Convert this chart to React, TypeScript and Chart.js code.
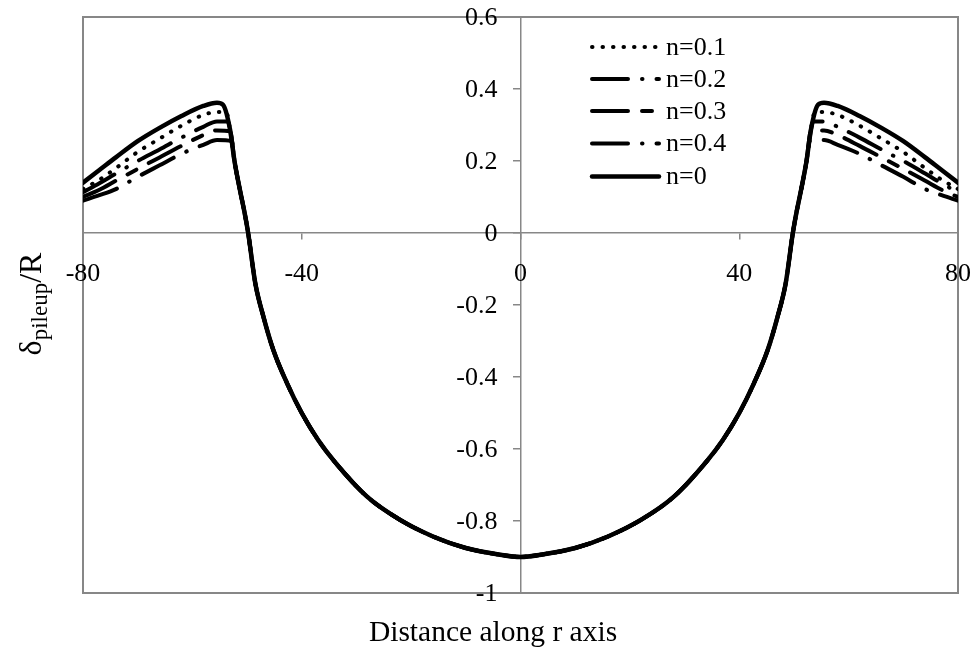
import React, { useEffect, useRef } from 'react';
import { Chart, registerables } from 'chart.js';

Chart.register(...registerables);

const FONT = '"Liberation Serif", "Times New Roman", serif';

// Legend labels (in legend order)
const seriesNames = ['n=0.1', 'n=0.2', 'n=0.3', 'n=0.4', 'n=0'];

// Axis ticks
const xTicks = [-80, -40, 0, 40, 80];
const yMin = -1;
const yMax = 0.6;
const yStep = 0.2;

// Shared central (indentation) curve, identical for every n
const bowlX = [-52.3, -51.3, -50.5, -49.8, -48.5, -47, -45.2, -42.7, -40, -37, -34, -28, -22, -16, -10, -4, 0, 4, 10, 16, 22, 28, 34, 37, 40, 42.7, 45.2, 47, 48.5, 49.8, 50.5, 51.3, 52.3];
const bowlY = [0.2, 0.119, 0.06, 0, -0.139, -0.233, -0.325, -0.417, -0.5, -0.575, -0.635, -0.733, -0.797, -0.843, -0.875, -0.893, -0.9, -0.893, -0.875, -0.843, -0.797, -0.733, -0.635, -0.575, -0.5, -0.417, -0.325, -0.233, -0.139, 0, 0.06, 0.119, 0.2];

// Pile-up wings for each n (left wing, then right wing)
const n0LeftX = [-80, -77, -74, -70, -66, -62, -58, -55.5, -54.4, -53.1];
const n0LeftY = [0.14, 0.175, 0.21, 0.255, 0.292, 0.325, 0.353, 0.362, 0.356, 0.286];
const n0RightX = [53.1, 54.4, 55.5, 58, 62, 66, 70, 74, 77, 80];
const n0RightY = [0.286, 0.356, 0.362, 0.353, 0.325, 0.292, 0.255, 0.21, 0.175, 0.14];

const n01LeftX = [-80, -77, -74, -70, -66, -62, -58, -55.5, -53.8, -53.1];
const n01LeftY = [0.122, 0.148, 0.18, 0.225, 0.262, 0.298, 0.328, 0.336, 0.335, 0.286];
const n01RightX = [53.1, 53.8, 55.5, 58, 62, 66, 70, 74, 77, 80];
const n01RightY = [0.286, 0.335, 0.336, 0.328, 0.298, 0.262, 0.225, 0.18, 0.148, 0.122];

const n02LeftX = [-80, -77, -74, -70, -66, -62, -58, -55.5, -53.5, -53.1];
const n02LeftY = [0.113, 0.138, 0.165, 0.2, 0.232, 0.265, 0.295, 0.31, 0.31, 0.286];
const n02RightX = [53.1, 53.5, 55.5, 58, 62, 66, 70, 74, 77, 80];
const n02RightY = [0.286, 0.31, 0.31, 0.295, 0.265, 0.232, 0.2, 0.165, 0.138, 0.113];

const n03LeftX = [-80, -77, -74, -70, -66, -62, -58, -55.5, -53.1];
const n03LeftY = [0.1, 0.12, 0.145, 0.178, 0.21, 0.242, 0.272, 0.285, 0.283];
const n03RightX = [53.1, 55.5, 58, 62, 66, 70, 74, 77, 80];
const n03RightY = [0.283, 0.285, 0.272, 0.242, 0.21, 0.178, 0.145, 0.12, 0.1];

const n04LeftX = [-80, -77, -74, -70, -66, -62, -58, -55.5, -52.8];
const n04LeftY = [0.09, 0.105, 0.122, 0.156, 0.188, 0.22, 0.245, 0.258, 0.255];
const n04RightX = [52.8, 55.5, 58, 62, 66, 70, 74, 77, 80];
const n04RightY = [0.255, 0.258, 0.245, 0.22, 0.188, 0.156, 0.122, 0.105, 0.09];

type Pt = { x: number; y: number };
const zip = (xs: number[], ys: number[]): Pt[] => xs.map((x, i) => ({ x, y: ys[i] }));
const build = (lx: number[], ly: number[], rx: number[], ry: number[]): Pt[] => [
  ...zip(lx, ly),
  ...zip(bowlX, bowlY),
  ...zip(rx, ry),
];

const styles = [
  { width: 4, dash: [0.5, 10] },
  { width: 4, dash: [36, 14, 0.5, 14] },
  { width: 4, dash: [36, 14, 10, 14] },
  { width: 4, dash: [36, 14, 0.5, 14] },
  { width: 4.5, dash: [] as number[] },
];

const seriesData = [
  build(n01LeftX, n01LeftY, n01RightX, n01RightY),
  build(n02LeftX, n02LeftY, n02RightX, n02RightY),
  build(n03LeftX, n03LeftY, n03RightX, n03RightY),
  build(n04LeftX, n04LeftY, n04RightX, n04RightY),
  build(n0LeftX, n0LeftY, n0RightX, n0RightY),
];

const zeroPadding = (s: any) => {
  s.paddingTop = 0;
  s.paddingBottom = 0;
  s.paddingLeft = 0;
  s.paddingRight = 0;
};

const frameAndText = {
  id: 'frameAndText',
  beforeDatasetsDraw(chart: any) {
    const { ctx, chartArea: a } = chart;
    ctx.save();
    ctx.strokeStyle = '#878787';
    ctx.lineWidth = 2;
    ctx.strokeRect(a.left, a.top, a.right - a.left, a.bottom - a.top);
    ctx.restore();
  },
  afterDraw(chart: any) {
    const { ctx } = chart;
    const xs = chart.scales.x;
    const ys = chart.scales.y;
    const x0 = xs.getPixelForValue(0);
    const y0 = ys.getPixelForValue(0);
    ctx.save();
    ctx.fillStyle = '#000';
    // Tick labels
    ctx.font = `26px ${FONT}`;
    ctx.textAlign = 'right';
    ctx.textBaseline = 'middle';
    ys.ticks.forEach((t: any) => {
      ctx.fillText(String(t.label), x0 - 23, ys.getPixelForValue(t.value) + 1);
    });
    ctx.textAlign = 'center';
    xs.ticks.forEach((t: any) => {
      ctx.fillText(String(t.label), xs.getPixelForValue(t.value), y0 + 41);
    });
    // Legend
    const rows = [47, 79, 111, 143.5, 176.5];
    seriesNames.forEach((name, i) => {
      const st = styles[i];
      ctx.save();
      ctx.strokeStyle = '#000';
      ctx.lineWidth = st.width;
      ctx.lineCap = 'round';
      ctx.setLineDash(st.dash);
      ctx.beginPath();
      ctx.moveTo(592, rows[i]);
      ctx.lineTo(659, rows[i]);
      ctx.stroke();
      ctx.restore();
      ctx.font = `26px ${FONT}`;
      ctx.textAlign = 'left';
      ctx.textBaseline = 'middle';
      ctx.fillText(name, 666, rows[i] + 1);
    });
    // X axis title
    ctx.font = `29.5px ${FONT}`;
    ctx.textAlign = 'center';
    ctx.textBaseline = 'middle';
    ctx.fillText('Distance along r axis', 493, 633);
    // Y axis title with subscript
    ctx.translate(33, 304);
    ctx.rotate(-Math.PI / 2);
    ctx.textAlign = 'left';
    ctx.textBaseline = 'middle';
    const big = `32px ${FONT}`;
    const small = `23px ${FONT}`;
    ctx.font = big;
    const w1 = ctx.measureText('\u03b4').width;
    const w3 = ctx.measureText('/R').width;
    ctx.font = small;
    const w2 = ctx.measureText('pileup').width;
    let x = -(w1 + w2 + w3) / 2;
    ctx.font = big;
    ctx.fillText('\u03b4', x, 0);
    x += w1;
    ctx.font = small;
    ctx.fillText('pileup', x, 8);
    x += w2;
    ctx.font = big;
    ctx.fillText('/R', x, 0);
    ctx.restore();
  },
};

export default function App() {
  const ref = useRef<HTMLCanvasElement>(null);
  useEffect(() => {
    document.body.style.margin = '0';
    const chart = new Chart(ref.current as HTMLCanvasElement, {
      type: 'line',
      data: {
        datasets: seriesData.map((d, i) => ({
          label: seriesNames[i],
          data: d,
          borderColor: '#000',
          borderWidth: styles[i].width,
          borderDash: styles[i].dash,
          borderCapStyle: 'round',
          borderJoinStyle: 'round',
          pointRadius: 0,
          fill: false,
          cubicInterpolationMode: 'monotone',
        })),
      },
      options: {
        animation: false,
        responsive: false,
        devicePixelRatio: 1,
        layout: { padding: { left: 83, right: 19, top: 17, bottom: 69 } },
        plugins: { legend: { display: false }, tooltip: { enabled: false } },
        scales: {
          x: {
            type: 'linear',
            min: -80,
            max: 80,
            position: { y: 0 },
            afterBuildTicks: (s: any) => { s.ticks = xTicks.map((v) => ({ value: v })); },
            afterFit: zeroPadding,
            grid: { drawOnChartArea: false, drawTicks: true, tickLength: 6, color: '#878787', lineWidth: 1.5 },
            border: { display: true, color: '#878787', width: 1.5 },
            ticks: { display: false, font: { family: FONT, size: 26 }, maxRotation: 0, autoSkip: false },
          },
          y: {
            type: 'linear',
            min: yMin,
            max: yMax,
            position: { x: 0 },
            afterFit: zeroPadding,
            ticks: {
              display: false,
              stepSize: yStep,
              font: { family: FONT, size: 26 },
              callback: (v: any) => String(Number(Number(v).toFixed(1))),
            },
            grid: { drawOnChartArea: false, drawTicks: true, tickLength: 7, color: '#878787', lineWidth: 1.5 },
            border: { display: true, color: '#878787', width: 1.5 },
          },
        },
      },
      plugins: [frameAndText],
    } as any);
    return () => chart.destroy();
  }, []);
  return <canvas ref={ref} width={977} height={662} style={{ display: 'block', width: 977, height: 662 }} />;
}
